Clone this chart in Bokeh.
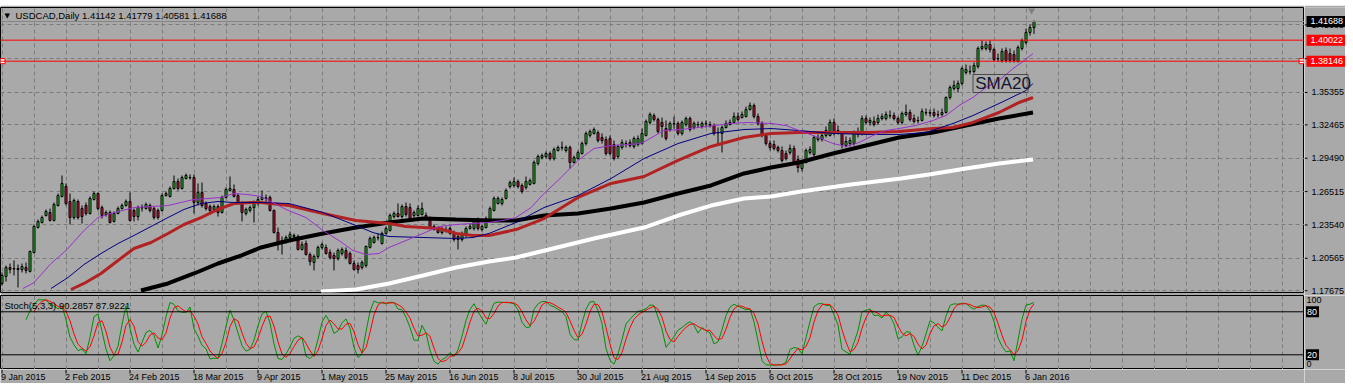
import numpy as np
import pandas as pd
from bokeh.plotting import figure
from bokeh.models import (Range1d, FixedTicker, Span, Label, ColumnDataSource, Spacer)
from bokeh.layouts import column, row
from bokeh.embed import file_html
from bokeh.resources import INLINE
from bokeh.core.properties import value

# ---------------- data ----------------
symbol = "USDCAD,Daily"
last_ohlc = ["1.41142", "1.41779", "1.40581", "1.41688"]
stoch_title = "Stoch(5,3,3) 90.2857 87.9221"

opens = [
    1.1832, 1.1894, 1.1974, 1.1965, 1.1965, 1.1956, 1.1974, 1.1939, 1.2108, 1.2331,
    1.2376, 1.2438, 1.2465, 1.2394, 1.2527, 1.2608, 1.2697, 1.2563, 1.2420, 1.2563,
    1.2500, 1.2527, 1.2456, 1.2581, 1.2634, 1.2509, 1.2447, 1.2465, 1.2385, 1.2456,
    1.2500, 1.2527, 1.2563, 1.2483, 1.2429, 1.2509, 1.2500, 1.2527, 1.2500, 1.2483,
    1.2483, 1.2616, 1.2608, 1.2679, 1.2741, 1.2679, 1.2768, 1.2777, 1.2777, 1.2554,
    1.2643, 1.2545, 1.2518, 1.2492, 1.2518, 1.2465, 1.2599, 1.2661, 1.2670, 1.2616,
    1.2545, 1.2456, 1.2483, 1.2509, 1.2545, 1.2581, 1.2590, 1.2599, 1.2483, 1.2286,
    1.2188, 1.2215, 1.2242, 1.2251, 1.2251, 1.2135, 1.2188, 1.2090, 1.2019, 1.2072,
    1.2153, 1.2153, 1.2108, 1.2081, 1.2054, 1.2099, 1.2126, 1.2099, 1.2010, 1.1992,
    1.1974, 1.1992, 1.2153, 1.2197, 1.2242, 1.2188, 1.2278, 1.2304, 1.2429, 1.2456,
    1.2429, 1.2518, 1.2509, 1.2438, 1.2438, 1.2447, 1.2438, 1.2411, 1.2313, 1.2322,
    1.2286, 1.2313, 1.2322, 1.2286, 1.2251, 1.2224, 1.2260, 1.2322, 1.2322, 1.2394,
    1.2313, 1.2331, 1.2394, 1.2483, 1.2545, 1.2545, 1.2590, 1.2697, 1.2706, 1.2741,
    1.2706, 1.2688, 1.2715, 1.2724, 1.2902, 1.2955, 1.2964, 1.2991, 1.2946, 1.3018,
    1.3045, 1.3018, 1.3045, 1.2911, 1.2946, 1.2991, 1.3080, 1.3152, 1.3170, 1.3178,
    1.3134, 1.3116, 1.3125, 1.3071, 1.2964, 1.3045, 1.3080, 1.3089, 1.3054, 1.3071,
    1.3080, 1.3152, 1.3268, 1.3330, 1.3294, 1.3268, 1.3214, 1.3205, 1.3259, 1.3259,
    1.3170, 1.3250, 1.3303, 1.3223, 1.3250, 1.3232, 1.3259, 1.3250, 1.3241, 1.3178,
    1.3170, 1.3223, 1.3250, 1.3268, 1.3321, 1.3312, 1.3321, 1.3383, 1.3419, 1.3321,
    1.3259, 1.3152, 1.3080, 1.3071, 1.3045, 1.3018, 1.2991, 1.3000, 1.3036, 1.2938,
    1.2857, 1.2911, 1.3000, 1.2982, 1.3116, 1.3116, 1.3152, 1.3152, 1.3268, 1.3196,
    1.3170, 1.3062, 1.3080, 1.3080, 1.3161, 1.3170, 1.3303, 1.3268, 1.3277, 1.3268,
    1.3303, 1.3303, 1.3330, 1.3330, 1.3303, 1.3268, 1.3339, 1.3357, 1.3303, 1.3286,
    1.3286, 1.3357, 1.3357, 1.3357, 1.3339, 1.3339, 1.3357, 1.3491, 1.3571, 1.3571,
    1.3616, 1.3714, 1.3723, 1.3723, 1.3767, 1.3928, 1.3928, 1.3964, 1.3919, 1.3838,
    1.3821, 1.3910, 1.3883, 1.3874, 1.3812, 1.3928, 1.3981, 1.4071, 1.41142]

highs = [
    1.1930, 1.1992, 1.2010, 1.2037, 1.2001, 1.2010, 1.2019, 1.2126, 1.2358, 1.2402,
    1.2438, 1.2492, 1.2500, 1.2554, 1.2634, 1.2795, 1.2724, 1.2634, 1.2590, 1.2581,
    1.2527, 1.2554, 1.2608, 1.2652, 1.2643, 1.2527, 1.2483, 1.2483, 1.2474, 1.2518,
    1.2545, 1.2581, 1.2643, 1.2500, 1.2527, 1.2536, 1.2554, 1.2545, 1.2518, 1.2500,
    1.2634, 1.2652, 1.2697, 1.2795, 1.2768, 1.2795, 1.2813, 1.2804, 1.2804, 1.2724,
    1.2732, 1.2563, 1.2536, 1.2536, 1.2536, 1.2616, 1.2688, 1.2786, 1.2715, 1.2634,
    1.2563, 1.2509, 1.2527, 1.2572, 1.2608, 1.2661, 1.2625, 1.2616, 1.2492, 1.2331,
    1.2251, 1.2260, 1.2295, 1.2278, 1.2269, 1.2206, 1.2215, 1.2108, 1.2090, 1.2170,
    1.2197, 1.2179, 1.2135, 1.2108, 1.2144, 1.2153, 1.2153, 1.2117, 1.2037, 1.2019,
    1.2037, 1.2170, 1.2251, 1.2260, 1.2278, 1.2295, 1.2340, 1.2456, 1.2474, 1.2545,
    1.2536, 1.2554, 1.2545, 1.2483, 1.2527, 1.2554, 1.2465, 1.2429, 1.2358, 1.2340,
    1.2340, 1.2340, 1.2340, 1.2304, 1.2269, 1.2295, 1.2340, 1.2367, 1.2411, 1.2420,
    1.2358, 1.2429, 1.2518, 1.2608, 1.2608, 1.2599, 1.2679, 1.2750, 1.2777, 1.2759,
    1.2724, 1.2786, 1.2768, 1.2929, 1.2982, 1.2991, 1.3009, 1.3009, 1.3045, 1.3062,
    1.3098, 1.3062, 1.3062, 1.2973, 1.3018, 1.3098, 1.3187, 1.3205, 1.3223, 1.3196,
    1.3170, 1.3143, 1.3152, 1.3107, 1.3071, 1.3116, 1.3107, 1.3116, 1.3143, 1.3152,
    1.3214, 1.3294, 1.3357, 1.3348, 1.3312, 1.3312, 1.3286, 1.3277, 1.3321, 1.3277,
    1.3286, 1.3321, 1.3321, 1.3277, 1.3277, 1.3277, 1.3286, 1.3277, 1.3259, 1.3223,
    1.3241, 1.3286, 1.3294, 1.3357, 1.3357, 1.3366, 1.3410, 1.3446, 1.3437, 1.3348,
    1.3277, 1.3170, 1.3107, 1.3107, 1.3062, 1.3054, 1.3018, 1.3071, 1.3062, 1.2973,
    1.2929, 1.3036, 1.3054, 1.3152, 1.3161, 1.3187, 1.3232, 1.3294, 1.3303, 1.3241,
    1.3187, 1.3143, 1.3134, 1.3196, 1.3223, 1.3330, 1.3330, 1.3312, 1.3321, 1.3339,
    1.3348, 1.3366, 1.3375, 1.3357, 1.3321, 1.3366, 1.3428, 1.3383, 1.3339, 1.3321,
    1.3392, 1.3392, 1.3383, 1.3392, 1.3375, 1.3392, 1.3500, 1.3598, 1.3642, 1.3642,
    1.3767, 1.3785, 1.3776, 1.3803, 1.3946, 1.3999, 1.3990, 1.3999, 1.3937, 1.3883,
    1.3928, 1.3937, 1.3928, 1.3910, 1.3955, 1.4017, 1.4106, 1.4142, 1.41779]

lows = [
    1.1814, 1.1849, 1.1921, 1.1903, 1.1796, 1.1930, 1.1921, 1.1930, 1.2099, 1.2322,
    1.2367, 1.2429, 1.2385, 1.2385, 1.2518, 1.2599, 1.2527, 1.2358, 1.2402, 1.2402,
    1.2367, 1.2438, 1.2447, 1.2572, 1.2483, 1.2411, 1.2429, 1.2367, 1.2376, 1.2447,
    1.2492, 1.2518, 1.2385, 1.2385, 1.2394, 1.2474, 1.2492, 1.2465, 1.2402, 1.2402,
    1.2474, 1.2608, 1.2599, 1.2670, 1.2661, 1.2670, 1.2759, 1.2759, 1.2456, 1.2527,
    1.2509, 1.2483, 1.2447, 1.2474, 1.2429, 1.2456, 1.2590, 1.2652, 1.2599, 1.2536,
    1.2385, 1.2438, 1.2465, 1.2376, 1.2527, 1.2572, 1.2545, 1.2474, 1.2278, 1.2126,
    1.2090, 1.2188, 1.2224, 1.2233, 1.2126, 1.2126, 1.2081, 1.1992, 1.1948, 1.2054,
    1.2135, 1.2090, 1.2046, 1.1948, 1.2037, 1.2081, 1.2046, 1.2001, 1.1948, 1.1921,
    1.1956, 1.1974, 1.2144, 1.2188, 1.2215, 1.2179, 1.2269, 1.2295, 1.2411, 1.2420,
    1.2411, 1.2429, 1.2385, 1.2420, 1.2429, 1.2438, 1.2402, 1.2322, 1.2304, 1.2278,
    1.2269, 1.2286, 1.2269, 1.2206, 1.2135, 1.2206, 1.2242, 1.2313, 1.2304, 1.2304,
    1.2295, 1.2322, 1.2385, 1.2474, 1.2536, 1.2527, 1.2581, 1.2679, 1.2688, 1.2679,
    1.2634, 1.2670, 1.2706, 1.2715, 1.2884, 1.2938, 1.2946, 1.2929, 1.2929, 1.3009,
    1.3018, 1.3000, 1.2857, 1.2902, 1.2938, 1.2982, 1.3062, 1.3134, 1.3161, 1.3089,
    1.3080, 1.2973, 1.2973, 1.2929, 1.2946, 1.3027, 1.3045, 1.3045, 1.3036, 1.3054,
    1.3071, 1.3143, 1.3250, 1.3277, 1.3170, 1.3134, 1.3107, 1.3187, 1.3214, 1.3152,
    1.3152, 1.3232, 1.3187, 1.3205, 1.3223, 1.3214, 1.3223, 1.3223, 1.3152, 1.3062,
    1.3000, 1.3214, 1.3241, 1.3259, 1.3277, 1.3303, 1.3312, 1.3375, 1.3303, 1.3241,
    1.3134, 1.3062, 1.3018, 1.3018, 1.3000, 1.2911, 1.2929, 1.2982, 1.2902, 1.2822,
    1.2831, 1.2902, 1.2982, 1.2964, 1.3098, 1.3098, 1.3134, 1.3143, 1.3152, 1.3161,
    1.3036, 1.3045, 1.3054, 1.3062, 1.3134, 1.3152, 1.3250, 1.3241, 1.3232, 1.3250,
    1.3286, 1.3286, 1.3303, 1.3286, 1.3250, 1.3250, 1.3321, 1.3277, 1.3259, 1.3259,
    1.3277, 1.3330, 1.3321, 1.3312, 1.3312, 1.3321, 1.3348, 1.3473, 1.3553, 1.3535,
    1.3598, 1.3696, 1.3696, 1.3705, 1.3749, 1.3910, 1.3910, 1.3892, 1.3812, 1.3812,
    1.3803, 1.3803, 1.3803, 1.3803, 1.3803, 1.3910, 1.3964, 1.4044, 1.40581]

closes = [
    1.1903, 1.1974, 1.1956, 1.1961, 1.1956, 1.1983, 1.1948, 1.2117, 1.2340, 1.2385,
    1.2420, 1.2474, 1.2394, 1.2536, 1.2616, 1.2724, 1.2545, 1.2420, 1.2572, 1.2420,
    1.2429, 1.2456, 1.2590, 1.2634, 1.2500, 1.2438, 1.2465, 1.2376, 1.2456, 1.2500,
    1.2527, 1.2563, 1.2394, 1.2429, 1.2509, 1.2506, 1.2536, 1.2483, 1.2420, 1.2420,
    1.2616, 1.2634, 1.2679, 1.2741, 1.2679, 1.2777, 1.2795, 1.2774, 1.2554, 1.2643,
    1.2527, 1.2500, 1.2483, 1.2518, 1.2465, 1.2599, 1.2670, 1.2679, 1.2608, 1.2554,
    1.2465, 1.2492, 1.2509, 1.2545, 1.2581, 1.2599, 1.2596, 1.2483, 1.2286, 1.2188,
    1.2215, 1.2242, 1.2269, 1.2260, 1.2135, 1.2179, 1.2090, 1.2028, 1.2072, 1.2153,
    1.2179, 1.2099, 1.2063, 1.2054, 1.2126, 1.2135, 1.2063, 1.2010, 1.1956, 1.1956,
    1.2019, 1.2162, 1.2233, 1.2242, 1.2239, 1.2278, 1.2322, 1.2438, 1.2456, 1.2429,
    1.2518, 1.2447, 1.2394, 1.2465, 1.2500, 1.2500, 1.2411, 1.2331, 1.2340, 1.2286,
    1.2322, 1.2310, 1.2278, 1.2224, 1.2224, 1.2278, 1.2322, 1.2340, 1.2394, 1.2322,
    1.2340, 1.2411, 1.2500, 1.2590, 1.2590, 1.2581, 1.2661, 1.2732, 1.2741, 1.2697,
    1.2652, 1.2741, 1.2750, 1.2911, 1.2964, 1.2973, 1.2991, 1.2946, 1.3027, 1.3045,
    1.3042, 1.3045, 1.2911, 1.2955, 1.3000, 1.3080, 1.3170, 1.3187, 1.3205, 1.3107,
    1.3107, 1.2991, 1.2991, 1.2946, 1.3054, 1.3089, 1.3077, 1.3062, 1.3125, 1.3125,
    1.3170, 1.3277, 1.3339, 1.3294, 1.3187, 1.3232, 1.3125, 1.3259, 1.3256, 1.3170,
    1.3268, 1.3303, 1.3205, 1.3259, 1.3247, 1.3259, 1.3256, 1.3241, 1.3170, 1.3175,
    1.3223, 1.3259, 1.3268, 1.3321, 1.3294, 1.3339, 1.3383, 1.3419, 1.3321, 1.3259,
    1.3152, 1.3080, 1.3045, 1.3036, 1.3018, 1.2929, 1.2946, 1.3036, 1.2911, 1.2866,
    1.2911, 1.3018, 1.3027, 1.3134, 1.3134, 1.3152, 1.3196, 1.3268, 1.3170, 1.3178,
    1.3071, 1.3098, 1.3107, 1.3178, 1.3178, 1.3303, 1.3268, 1.3286, 1.3250, 1.3303,
    1.3321, 1.3339, 1.3327, 1.3303, 1.3268, 1.3348, 1.3357, 1.3294, 1.3277, 1.3283,
    1.3366, 1.3354, 1.3351, 1.3330, 1.3336, 1.3357, 1.3491, 1.3580, 1.3598, 1.3616,
    1.3749, 1.3740, 1.3720, 1.3776, 1.3928, 1.3946, 1.3964, 1.3919, 1.3830, 1.3835,
    1.3901, 1.3821, 1.3821, 1.3821, 1.3937, 1.3999, 1.4071, 1.4115, 1.41688]

# moving averages (bar index, price)
sma20_x = [5.25, 8, 12.25, 16, 20.5, 24, 27.25, 33, 37.25, 41.5, 44.75, 48, 51.5, 54.75, 58, 61.5, 64.75,
           71, 76, 80.25, 84.25, 87.75, 91, 94.25, 96.75, 101, 105.25, 109.25, 113.5, 117.75, 121.75, 125.25, 128.5,
           132.25, 135.5, 139.75, 144, 148, 152.25, 156.5, 159.75, 165.5, 169.75, 174, 178, 182.25, 186.5, 192.25,
           196, 199.25, 203.5, 207.75, 211, 214.25, 217.75, 221, 224.25, 228.5, 232.75, 236, 239.25, 242.75, 246,
           249.25, 252.75, 255.25, 257.75]
sma20_y = [1.1787, 1.1840, 1.2010, 1.2126, 1.2304, 1.2420, 1.2456, 1.2509, 1.2518, 1.2527, 1.2554, 1.2581, 1.2590,
           1.2599, 1.2634, 1.2625, 1.2608,
           1.2492, 1.2420, 1.2304, 1.2215, 1.2126, 1.2090, 1.2099, 1.2153, 1.2215, 1.2278, 1.2340, 1.2358, 1.2367,
           1.2376, 1.2394, 1.2420,
           1.2509, 1.2634, 1.2777, 1.2929, 1.3036, 1.3062, 1.3071, 1.3080, 1.3196, 1.3205, 1.3223, 1.3241, 1.3259,
           1.3268, 1.3259,
           1.3241, 1.3196, 1.3143, 1.3080, 1.3054, 1.3089, 1.3152, 1.3196, 1.3214, 1.3241, 1.3286, 1.3330, 1.3419,
           1.3491, 1.3580, 1.3642, 1.3749, 1.3812, 1.3883]

sma50_x = [12.25, 16.5, 20.5, 24.75, 29, 33, 37.25, 41.5, 45.5, 49.75, 54, 58, 64.75, 71.75, 80.25, 88.5, 92.75,
           96.75, 105.25, 113.5, 117.75, 121.75, 128.5, 135.5, 144, 152.25, 160.5, 169, 177.25, 185.5, 192.25,
           199.25, 207.75, 216, 224.25, 231, 237.75, 242.75, 249.25, 256, 257.75]
sma50_y = [1.1787, 1.1885, 1.2001, 1.2099, 1.2188, 1.2260, 1.2340, 1.2420, 1.2492, 1.2545, 1.2563, 1.2554, 1.2554,
           1.2545, 1.2465, 1.2349, 1.2286, 1.2251, 1.2242, 1.2233, 1.2242, 1.2278, 1.2376, 1.2509, 1.2616, 1.2768,
           1.2946, 1.3080, 1.3170, 1.3205, 1.3214, 1.3196, 1.3170, 1.3161, 1.3161, 1.3178, 1.3259, 1.3330, 1.3437,
           1.3553, 1.3616]

ma100_x = [17.25, 20.5, 24.75, 29, 33, 37.25, 41.5, 45.5, 49.75, 54, 58, 62.25, 64.75, 71.75, 80.25, 88.5, 96.75,
           101, 105.25, 109.25, 113.5, 117.75, 121.75, 128.5, 135.5, 144, 152.25, 160.5, 169, 177.25, 185.5, 192.25,
           199.25, 207.75, 216, 224.25, 232.75, 237.75, 242.75, 249.25, 254.25, 257.75]
ma100_y = [1.1778, 1.1832, 1.1921, 1.2037, 1.2144, 1.2197, 1.2278, 1.2358, 1.2420, 1.2492, 1.2545, 1.2554, 1.2554,
           1.2527, 1.2456, 1.2394, 1.2367, 1.2340, 1.2331, 1.2322, 1.2278, 1.2260, 1.2260, 1.2313, 1.2411, 1.2599,
           1.2724, 1.2786, 1.2929, 1.3054, 1.3134, 1.3170, 1.3178, 1.3178, 1.3178, 1.3187, 1.3214, 1.3223, 1.3268,
           1.3357, 1.3446, 1.3491]

ma150_x = [34.75, 41.5, 48, 54, 59.75, 64.75, 71.75, 80.25, 88.5, 96.75, 105.25, 113.5, 121.75, 128.5, 135.5, 144,
           152.25, 160.5, 169, 177.25, 185.5, 192.25, 199.25, 207.75, 216, 224.25, 232.75, 241, 249.25, 257.75]
ma150_y = [1.1769, 1.1832, 1.1921, 1.2010, 1.2081, 1.2153, 1.2215, 1.2278, 1.2331, 1.2376, 1.2411, 1.2402, 1.2394,
           1.2394, 1.2438, 1.2456, 1.2500, 1.2554, 1.2634, 1.2706, 1.2813, 1.2866, 1.2911, 1.2991, 1.3062, 1.3134,
           1.3178, 1.3241, 1.3303, 1.3357]

ma200_x = [79.75, 88.5, 96.75, 105.25, 113.5, 121.75, 128.5, 148, 160.5, 169, 177.25, 185.5, 192.25, 199.75,
           212.25, 224.75, 231.75, 241, 249.25, 257.75]
ma200_y = [1.1760, 1.1778, 1.1832, 1.1903, 1.1974, 1.2028, 1.2063, 1.2233, 1.2331, 1.2438, 1.2527, 1.2590, 1.2608,
           1.2652, 1.2715, 1.2768, 1.2804, 1.2857, 1.2902, 1.2938]

date_labels = ["9 Jan 2015", "2 Feb 2015", "24 Feb 2015", "18 Mar 2015", "9 Apr 2015", "1 May 2015",
               "25 May 2015", "16 Jun 2015", "8 Jul 2015", "30 Jul 2015", "21 Aug 2015", "14 Sep 2015",
               "6 Oct 2015", "28 Oct 2015", "19 Nov 2015", "11 Dec 2015", "6 Jan 2016"]
date_bars = [0, 16, 32, 48, 64, 80, 96, 112, 128, 144, 160, 176, 192, 208, 224, 240, 256]

price_ticks = [1.17675, 1.20565, 1.23540, 1.26515, 1.29490, 1.32465, 1.35355, 1.38370, 1.41385]
resistance = 1.40022
support = 1.38146
bid = 1.41688
stoch_levels = [80, 20]
stoch_bounds = [100, 0]

# ---------------- styling ----------------
BG = "#A9A9A9"
GRID = "#7C7C7C"
FONT = "Liberation Sans"
BULL = "#2ECC2E"
BEAR = "#DC143C"

n = len(closes)
bars = np.arange(n)
O = np.array(opens); H = np.array(highs); L = np.array(lows); C = np.array(closes)

# stochastic 5,3,3 derived from the candles
hh = pd.Series(H).rolling(5).max().values
ll = pd.Series(L).rolling(5).min().values
num = pd.Series(C - ll).rolling(3).sum().values
den = pd.Series(hh - ll).rolling(3).sum().values
stoch_main = 100.0 * num / den
stoch_signal = pd.Series(stoch_main).rolling(3).mean().values

CHART_W = 1304
SIDE_W = 41
x_range = Range1d(-0.375, -0.375 + CHART_W / 4)
price_range = Range1d(1.175136, 1.429356)
side_price_range = Range1d(1.172460, 1.429356)
stoch_range = Range1d(-0.52, 102.74)


def pane(frame_w, frame_h, xr, yr, top=0, bottom=0, outline="black"):
    f = figure(frame_width=frame_w, frame_height=frame_h, x_range=xr, y_range=yr,
               x_axis_location=None, y_axis_location=None, toolbar_location=None, output_backend="svg",
               min_border_left=0, min_border_right=0, min_border_top=top, min_border_bottom=bottom,
               background_fill_color=BG, border_fill_color=BG, outline_line_color=outline)
    return f


# ---------------- main price pane ----------------
p = pane(CHART_W, 285, x_range, price_range, top=2, bottom=3)
p.xgrid.ticker = FixedTicker(ticks=list(range(0, 330, 8)))
p.ygrid.ticker = FixedTicker(ticks=price_ticks)
for g in (p.xgrid, p.ygrid):
    g.grid_line_color = GRID
    g.grid_line_dash = "4 3"
    g.grid_line_width = 1

src = ColumnDataSource(dict(
    x=bars, h=H, l=L,
    top=np.maximum(O, C), bottom=np.minimum(O, C),
    color=[BULL if c >= o else BEAR for o, c in zip(opens, closes)]))
p.segment(x0="x", y0="h", x1="x", y1="l", source=src, line_color="black", line_width=1)
p.vbar(x="x", width=0.5, top="top", bottom="bottom", source=src,
       fill_color="color", line_color="black", line_width=1)

p.line(ma200_x, ma200_y, line_color="white", line_width=4)
p.line(ma150_x, ma150_y, line_color="black", line_width=4)
p.line(ma100_x, ma100_y, line_color="#B22222", line_width=3)
p.line(sma50_x, sma50_y, line_color="#000080", line_width=1)
p.line(sma20_x, sma20_y, line_color="#9932CC", line_width=1)

p.add_layout(Span(location=bid, dimension="width", line_color="#858585", line_width=1))
p.add_layout(Span(location=resistance, dimension="width", line_color="#FF0000", line_width=1))
p.add_layout(Span(location=support, dimension="width", line_color="#FF0000", line_width=1))
p.scatter([0.125, 324.9], [support, support], marker="square", size=5,
          fill_color="white", line_color="#FF0000", line_width=1)
# chart shift marker
p.scatter([257.4], [1.4267], marker="inverted_triangle", size=7, fill_color="#808080", line_color=None)

# SMA20 text object
p.quad(left=[242.75], right=[256.5], bottom=[1.3535], top=[1.3696],
       fill_alpha=0, line_color="#4A4A4A", line_width=1)
p.add_layout(Label(x=243.3, y=1.3616, text="SMA20", text_font=FONT,
                   text_font_size="17px", text_color="#14142E", text_baseline="middle"))

# title
p.add_layout(Label(x=4, y=277, x_units="screen", y_units="screen", text="\u25BC", text_font="DejaVu Sans",
                   text_font_size="7px", text_color="black", text_baseline="middle"))
p.add_layout(Label(x=15, y=277, x_units="screen", y_units="screen",
                   text=symbol + "  " + " ".join(last_ohlc), text_font=FONT,
                   text_font_size="9.5px", text_color="black", text_baseline="middle"))

# price scale on the right
ps = pane(SIDE_W, 288, Range1d(0, SIDE_W), side_price_range, top=2, bottom=0, outline=None)
ps.xgrid.visible = False
ps.ygrid.visible = False
ps.segment(x0=0, y0=price_ticks, x1=3, y1=price_ticks, line_color="black", line_width=1)
ps.text(x=7, y=price_ticks, text=["%.5f" % t for t in price_ticks], text_font=value(FONT),
        text_font_size="9px", text_color="black", text_baseline="middle", text_align="left")
box_prices = [bid, resistance, support]
box_colors = ["black", "#FF0000", "#FF0000"]
ps.rect(x=22, y=box_prices, width=40, height=11, height_units="screen",
        fill_color=box_colors, line_color=None)
ps.text(x=6, y=box_prices, text=["%.5f" % v for v in box_prices], text_font=value(FONT),
        text_font_size="9px", text_color="white", text_baseline="middle", text_align="left")

# ---------------- stochastic pane ----------------
s = pane(CHART_W, 74, x_range, stoch_range)
s.xgrid.ticker = FixedTicker(ticks=list(range(0, 330, 8)))
s.xgrid.grid_line_color = GRID
s.xgrid.grid_line_dash = "4 3"
s.ygrid.visible = False
for lv in stoch_levels:
    s.add_layout(Span(location=lv, dimension="width", line_color="black", line_width=1))
s.line(bars, stoch_main, line_color="#009000", line_width=1)
s.line(bars, stoch_signal, line_color="#FF0000", line_width=1)
s.add_layout(Label(x=4, y=64, x_units="screen", y_units="screen", text=stoch_title, text_font=FONT,
                   text_font_size="9.5px", text_color="black", text_baseline="middle"))

ss = pane(SIDE_W, 74, Range1d(0, SIDE_W), stoch_range, outline=None)
ss.xgrid.visible = False
ss.ygrid.visible = False
ss.text(x=2, y=stoch_bounds, text=[str(v) for v in stoch_bounds], text_font=value(FONT),
        text_font_size="9px", text_color="black", text_align="left", text_baseline=["top", "bottom"],
        y_offset=[0, -2])
ss.rect(x=8, y=stoch_levels, width=13, height=11, height_units="screen", fill_color="black", line_color=None)
ss.text(x=2.5, y=stoch_levels, text=[str(v) for v in stoch_levels], text_font=value(FONT),
        text_font_size="9px", text_color="white", text_align="left", text_baseline="middle")

# ---------------- date strip ----------------
d = pane(CHART_W, 14, x_range, Range1d(0, 14), outline=None)
d.xgrid.visible = False
d.ygrid.visible = False
d.segment(x0=date_bars, y0=14, x1=date_bars, y1=10, line_color="black", line_width=1)
d.text(x=date_bars, y=12, text=date_labels, x_offset=-1, text_font=value(FONT),
       text_font_size="9px", text_color="black", text_align="left", text_baseline="top")
ds = pane(SIDE_W, 14, Range1d(0, SIDE_W), Range1d(0, 14), outline=None)
ds.xgrid.visible = False
ds.ygrid.visible = False

layout = column(Spacer(width=CHART_W + SIDE_W, height=5),
                row(p, ps, spacing=0), row(s, ss, spacing=0), row(d, ds, spacing=0), spacing=0)
open("out.html", "w").write(file_html(layout, INLINE))
